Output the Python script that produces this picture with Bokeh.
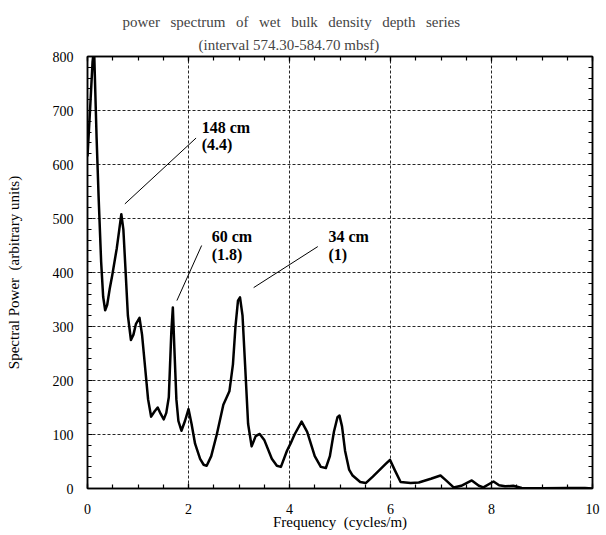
from bokeh.plotting import figure
from bokeh.models import (Range1d, LinearAxis, SingleIntervalTicker, Title, Label,
                          CustomJSTickFormatter)
from bokeh.embed import file_html
from bokeh.resources import INLINE

FONT = "Liberation Serif"

freq = [0.00, 0.05, 0.10, 0.13, 0.18, 0.22, 0.27, 0.31, 0.35, 0.39, 0.44, 0.49,
        0.58, 0.63, 0.67, 0.71, 0.75, 0.80, 0.86, 0.91, 0.96, 1.03, 1.08, 1.14,
        1.20, 1.26, 1.33, 1.39, 1.45, 1.51, 1.56, 1.61, 1.66, 1.69, 1.72, 1.76,
        1.80, 1.86, 1.93, 2.00, 2.06, 2.13, 2.23, 2.30, 2.36, 2.45, 2.56, 2.69,
        2.81, 2.88, 2.93, 2.98, 3.02, 3.07, 3.12, 3.18, 3.25, 3.33, 3.41, 3.50,
        3.65, 3.75, 3.83, 3.95, 4.02, 4.10, 4.24, 4.35, 4.50, 4.62, 4.72, 4.80,
        4.88, 4.95, 4.99, 5.04, 5.10, 5.18, 5.25, 5.40, 5.51, 5.65, 5.77, 5.90,
        5.99, 6.08, 6.20, 6.40, 6.56, 6.80, 6.99, 7.10, 7.25, 7.40, 7.61, 7.75,
        7.84, 8.04, 8.15, 8.27, 8.43, 8.60, 9.00, 9.50, 9.85, 10.0]
power = [615, 700, 790, 815, 650, 540, 420, 355, 330, 340, 370, 395,
         445, 480, 508, 480, 410, 320, 275, 285, 305, 316, 285, 225,
         165, 133, 143, 150, 138, 128, 140, 169, 290, 335, 260, 165,
         125, 107, 125, 147, 120, 83, 55, 44, 42, 60, 100, 155,
         180, 230, 300, 348, 354, 320, 230, 120, 78, 97, 101, 90,
         55, 42, 40, 70, 83, 100, 124, 105, 60, 40, 38, 60,
         105, 132, 135, 115, 70, 35, 24, 12, 10, 22, 33, 45,
         53, 35, 12, 10, 11, 18, 24, 15, 2, 5, 15, 5,
         2, 13, 6, 4, 5, 1, 0.5, 1, 1, 0]

# annotations: period labels and leader lines
ann_text1 = ["148 cm", "60 cm", "34 cm"]
ann_text2 = ["(4.4)", "(1.8)", "(1)"]
ann_x = [2.26, 2.46, 4.77]
ann_y1 = [685, 482, 482]
ann_y2 = [652, 450, 450]
lead_x0 = [2.15, 2.26, 4.56]
lead_y0 = [649, 450, 448]
lead_x1 = [0.74, 1.77, 3.29]
lead_y1 = [527, 348, 372]

GAP = "\u2002\u2009"
title1 = GAP.join("power spectrum of wet bulk density depth series".split(" "))
title2 = "(interval 574.30-584.70 mbsf)"
xlabel = "Frequency\u00a0 (cycles/m)"
ylabel = "Spectral Power\u00a0 (arbitrary units)"

p = figure(width=606, height=535, output_backend="svg", toolbar_location=None,
           title=None, x_range=Range1d(0, 10), y_range=Range1d(0, 800),
           min_border_left=87, min_border_right=14, min_border_top=56,
           min_border_bottom=47, background_fill_color="white")

p.outline_line_color = "black"
p.outline_line_width = 1.5


def style_axis(ax, labels=True):
    ax.axis_line_color = "black"
    ax.axis_line_width = 1.5
    ax.major_tick_in = 5
    ax.major_tick_out = 0
    ax.minor_tick_in = 4
    ax.minor_tick_out = 0
    ax.major_tick_line_color = "black"
    ax.minor_tick_line_color = "black"
    ax.major_tick_line_width = 1.2
    ax.minor_tick_line_width = 1.2
    ax.major_label_text_font = FONT
    ax.major_label_text_font_size = "14px"
    ax.major_label_text_color = "black"
    ax.axis_label_text_font = FONT
    ax.axis_label_text_font_size = "15px"
    ax.axis_label_text_font_style = "normal"
    ax.axis_label_text_color = "black"
    if not labels:
        ax.formatter = CustomJSTickFormatter(code="return ''")
        ax.major_label_standoff = 0
        ax.axis_label = None


xt = SingleIntervalTicker(interval=2, num_minor_ticks=4)
yt = SingleIntervalTicker(interval=100, num_minor_ticks=5)

p.xaxis.ticker = xt
p.yaxis.ticker = yt
style_axis(p.xaxis[0])
style_axis(p.yaxis[0])
p.xaxis.axis_label = xlabel
p.yaxis.axis_label = ylabel
p.xaxis.major_label_standoff = 15
p.xaxis.axis_label_standoff = -3
p.yaxis.major_label_standoff = 14
p.yaxis.axis_label_standoff = 28

top_ax = LinearAxis(ticker=xt)
style_axis(top_ax, labels=False)
right_ax = LinearAxis(ticker=yt)
style_axis(right_ax, labels=False)
p.add_layout(top_ax, "above")
p.add_layout(right_ax, "right")

p.xgrid.ticker = xt
p.ygrid.ticker = yt
for g in (p.xgrid[0], p.ygrid[0]):
    g.grid_line_color = "black"
    g.grid_line_dash = "3 2"
    g.grid_line_width = 1
    g.grid_line_alpha = 0.85

p.add_layout(Title(text=title2, text_font=FONT, text_font_size="15px",
                   text_font_style="normal", align="left", offset=111,
                   vertical_align="middle", standoff=6), "above")
p.add_layout(Title(text=title1, text_font=FONT, text_font_size="15px",
                   text_font_style="normal", align="left", offset=35,
                   standoff=6), "above")

p.line(freq, power, line_color="black", line_width=2.5, line_join="round")

p.segment(x0=lead_x0, y0=lead_y0, x1=lead_x1, y1=lead_y1,
          line_color="black", line_width=1)

for t1, t2, x, y1, y2 in zip(ann_text1, ann_text2, ann_x, ann_y1, ann_y2):
    p.add_layout(Label(x=x, y=y1, text=t1, text_font=FONT, text_font_size="16px",
                       text_font_style="bold", text_baseline="top", text_color="black"))
    p.add_layout(Label(x=x, y=y2, text=t2, text_font=FONT, text_font_size="16px",
                       text_font_style="bold", text_baseline="top", text_color="black"))

open("out.html", "w").write(file_html(p, INLINE))
